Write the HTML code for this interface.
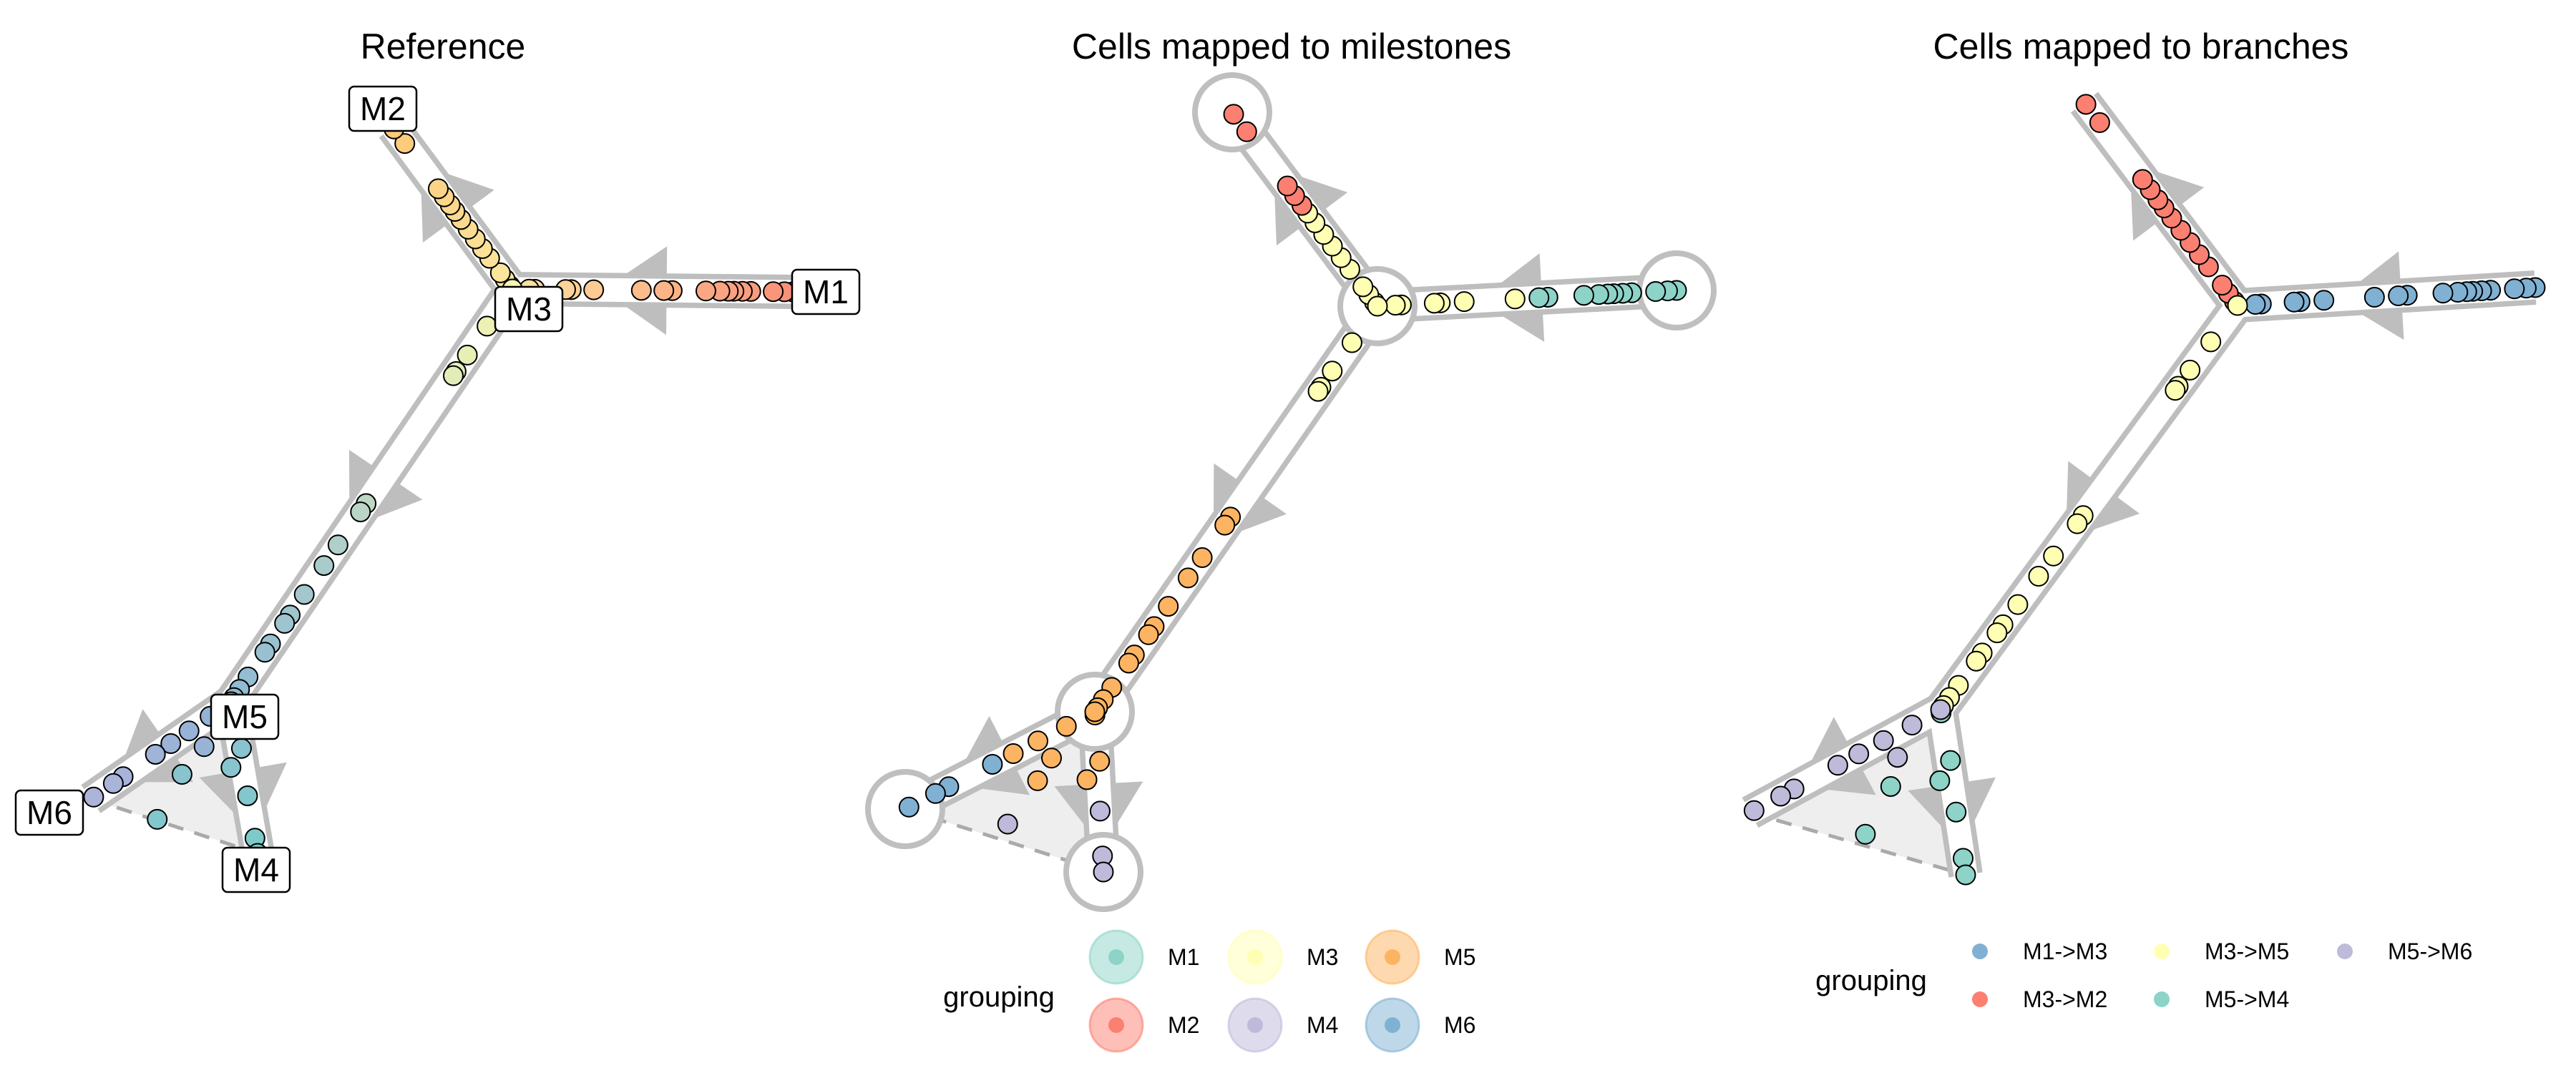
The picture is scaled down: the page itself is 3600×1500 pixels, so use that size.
<!DOCTYPE html>
<html><head><meta charset="utf-8"><style>
html,body{margin:0;padding:0;background:#fff}
svg{display:block;font-family:"Liberation Sans",Arial,sans-serif}
</style></head><body>
<svg id="chart" width="3600" height="1500" viewBox="0 0 3600 1500" xmlns="http://www.w3.org/2000/svg">
<rect x="0" y="0" width="3600" height="1500" fill="#fff"/>
<text x="619" y="82" font-size="50" text-anchor="middle">Reference</text>
<text x="1805" y="82" font-size="50" text-anchor="middle">Cells mapped to milestones</text>
<text x="2992" y="82" font-size="50" text-anchor="middle">Cells mapped to branches</text>
<g id="p1"></g><g id="p2"></g><g id="p3"></g><g id="legends"></g>
</svg>
<script>
// ---- data ----
const milestoneNames = ["M1","M2","M3","M4","M5","M6"];
const edgeFrom = ["M1","M3","M3","M5","M5"];
const edgeTo   = ["M3","M2","M5","M4","M6"];
const branchNames = ["M1->M3","M3->M2","M3->M5","M5->M4","M5->M6"];
// cells: branch index, fraction along branch, perpendicular offset, milestone mapped
const cellBranch = [
 0,0,0,0,0,0,0,0,0,0,0,0,0,0,0,0,0,
 1,1,1,1,1,1,1,1,1,1,1,1,1,1,
 2,2,2,2,2,2,2,2,2,2,2,2,2,2,2,2,2,
 3,3,3,3,3,3,3,3,
 4,4,4,4,4,4,4,4,4];
const cellFrac = [
 0.0,0.03,0.07,0.15,0.18,0.21,0.23,0.26,0.31,0.43,0.46,0.54,0.71,0.79,0.81,0.92,0.94,
 0.02,0.06,0.1,0.19,0.25,0.31,0.37,0.43,0.48,0.52,0.57,0.62,0.9,0.99,
 0.0,0.09,0.16,0.2,0.21,0.52,0.54,0.62,0.67,0.74,0.79,0.81,0.86,0.88,0.94,0.97,0.99,
 0.02,0.31,0.42,0.62,0.9,1.0,0.41,0.67,
 0.0,0.15,0.28,0.3,0.43,0.54,0.77,0.84,0.98];
const cellOffset = [
 0,0,0,0,0,0,0,0,0,0,0,0,0,0,0,0,0,
 0,0,0,0,0,0,0,0,0,0,0,0,0,0,
 0,0,0,0,0,0,0,0,0,0,0,0,0,0,0,0,0,
 0,-3,16,0,0,0,85,130,
 0,0,-30,0,0,0,0,0,0];
const cellMilestone = [
 "M1","M1","M1","M1","M1","M1","M1","M1","M1","M1","M1","M3","M3","M3","M3","M3","M3",
 "M3","M3","M3","M3","M3","M3","M3","M3","M3","M2","M2","M2","M2","M2",
 "M3","M3","M3","M3","M3","M5","M5","M5","M5","M5","M5","M5","M5","M5","M5","M5","M5",
 "M5","M5","M5","M4","M4","M4","M5","M4",
 "M5","M5","M5","M5","M5","M6","M6","M6","M6"];

// ---- styling ----
const milestoneColors = {M1:"#8dd3c7",M2:"#fb8072",M3:"#ffffb3",M4:"#bebada",M5:"#fdb462",M6:"#80b1d3"};
const branchColors = ["#80b1d3","#fb8072","#ffffb3","#8dd3c7","#bebada"];
const refGrad = [["#f88f79","#fcb88a","#fee4a0"],["#fbe8a0","#fcc878"],["#f7f5b0","#d6e6bd","#a9cbcc","#8fbad2"],["#8fbfd2","#7ccbc8"],["#8fb3d5","#aeb4da"]];
const layouts = [
 {M1:[1108,408],M2:[549,178],M3:[716,404],M4:[360,1193],M5:[323,981],M6:[127,1117]},
 {M1:[2343,406],M2:[1722,157],M3:[1925,428],M4:[1542,1219],M5:[1530,995],M6:[1265,1131]},
 {M1:[3543,402],M2:[2913,143],M3:[3127,427],M4:[2747,1223],M5:[2712,992],M6:[2446,1136]}
];
const labelPos = {M1:[1154,408],M2:[535,152],M3:[739,432],M4:[358,1216],M5:[342,1002],M6:[69,1136]};
const NS="http://www.w3.org/2000/svg";
function mk(tag,attrs,parent){const e=document.createElementNS(NS,tag);for(const k in attrs)e.setAttribute(k,attrs[k]);parent.appendChild(e);return e;}
function hex(c){return [1,3,5].map(i=>parseInt(c.substr(i,2),16));}
function lerpColor(stops,t){const n=stops.length-1;const s=Math.min(n-1,Math.floor(t*n));const f=t*n-s;const a=hex(stops[s]),b=hex(stops[s+1]);return "rgb("+a.map((v,i)=>Math.round(v+(b[i]-v)*f)).join(",")+")";}
function cellPos(L,i){const a=L[edgeFrom[cellBranch[i]]],b=L[edgeTo[cellBranch[i]]];const dx=b[0]-a[0],dy=b[1]-a[1];const len=Math.hypot(dx,dy);const f=cellFrac[i];return [a[0]+dx*f+(-dy/len)*cellOffset[i],a[1]+dy*f+(dx/len)*cellOffset[i]];}

function drawPanel(p){
 const L=layouts[p];const g=document.getElementById("p"+(p+1));
 const tri=mk("polygon",{points:[L.M5,L.M6,L.M4].map(q=>q.join(",")).join(" "),fill:"#eeeeee"},g);
 
 
 const dash=mk("line",{x1:L.M6[0],y1:L.M6[1],x2:L.M4[0],y2:L.M4[1],stroke:"#aaaaaa","stroke-width":5,"stroke-dasharray":"22,16"},g);
 
 
 for(let e=0;e<5;e++){const a=L[edgeFrom[e]],b=L[edgeTo[e]];const dx=b[0]-a[0],dy=b[1]-a[1];const len=Math.hypot(dx,dy);const ux=dx/len,uy=dy/len;const bx=a[0]+dx*0.45,by=a[1]+dy*0.45;const tx=bx+ux*90,ty=by+uy*90;const w=62;
  const ar=mk("polygon",{points:[[tx,ty],[bx-uy*w,by+ux*w],[bx+uy*w,by-ux*w]].map(q=>q.join(",")).join(" "),fill:"#bebebe"},g);
  
  }
 for(let e=0;e<5;e++){const a=L[edgeFrom[e]],b=L[edgeTo[e]];
  const o=mk("line",{x1:a[0],y1:a[1],x2:b[0],y2:b[1],stroke:"#bebebe","stroke-width":48,"stroke-linecap":"butt"},g);
  
  }
 for(let e=0;e<5;e++){const a=L[edgeFrom[e]],b=L[edgeTo[e]];
  const w=mk("line",{x1:a[0],y1:a[1],x2:b[0],y2:b[1],stroke:"#ffffff","stroke-width":33,"stroke-linecap":"butt"},g);
  
  }
 if(p===1){for(const m of milestoneNames){const c=mk("circle",{cx:L[m][0],cy:L[m][1],r:52,fill:"#fff",stroke:"#bfbfbf","stroke-width":8},g);
  
  }}
 for(let i=0;i<cellBranch.length;i++){const q=cellPos(L,i);let col;
  if(p===0)col=lerpColor(refGrad[cellBranch[i]],Math.min(1,Math.max(0,cellFrac[i])));
  else if(p===1)col=milestoneColors[cellMilestone[i]];else col=branchColors[cellBranch[i]];
  const c=mk("circle",{cx:q[0],cy:q[1],r:13.5,fill:col,stroke:"#000","stroke-width":2},g);
  
  }
 if(p===0){for(const m of milestoneNames){const lp=labelPos[m];
  const r=mk("rect",{x:lp[0]-47,y:lp[1]-31,width:94,height:62,rx:7,fill:"#fff",stroke:"#000","stroke-width":2.5},g);
  
  
  const t=mk("text",{x:lp[0],y:lp[1]+16,"font-size":46,"text-anchor":"middle"},g);t.textContent=m;
  
  }}
}
[0,1,2].forEach(drawPanel);

const lg=document.getElementById("legends");
let gt=mk("text",{x:1396,y:1407,"font-size":40,"text-anchor":"middle"},lg);gt.textContent="grouping";


const colX=[1560,1754,1946],rowY=[1338,1433];
milestoneNames.forEach((m,i)=>{const x=colX[Math.floor(i/2)],y=rowY[i%2];
 const bg=mk("circle",{cx:x,cy:y,r:37,fill:milestoneColors[m],"fill-opacity":0.5,stroke:milestoneColors[m],"stroke-opacity":0.6,"stroke-width":3},lg);
 
 
 mk("circle",{cx:x,cy:y,r:11,fill:milestoneColors[m],stroke:"none"},lg);
 const t=mk("text",{x:x+72,y:y+11,"font-size":32},lg);t.textContent=m;
 
 });
gt=mk("text",{x:2615,y:1384,"font-size":40,"text-anchor":"middle"},lg);gt.textContent="grouping";


const bX=[2767,3021,3277],bY=[1330,1397];
branchNames.forEach((b,i)=>{const x=bX[Math.floor(i/2)],y=bY[i%2];
 const d=mk("circle",{cx:x,cy:y,r:11,fill:branchColors[i]},lg);
 
 
 const t=mk("text",{x:x+60,y:y+11,"font-size":32},lg);t.textContent=b;
 
 });
</script>
</body></html>
